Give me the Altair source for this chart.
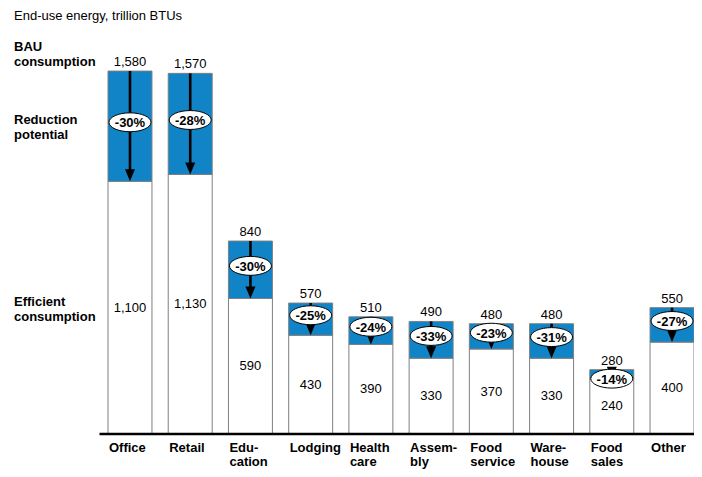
import altair as alt
import pandas as pd

# ---- data ----
categories = ["Office", "Retail", "Edu-\ncation", "Lodging", "Health\ncare",
              "Assem-\nbly", "Food\nservice", "Ware-\nhouse", "Food\nsales", "Other"]
bau_values = [1580, 1570, 840, 570, 510, 490, 480, 480, 280, 550]
efficient_values = [1100, 1130, 590, 430, 390, 330, 370, 330, 240, 400]
reduction_labels = ["-30%", "-28%", "-30%", "-25%", "-24%", "-33%", "-23%", "-31%", "-14%", "-27%"]

df = pd.DataFrame({
    "category": categories,
    "bau": bau_values,
    "eff": efficient_values,
    "pct": reduction_labels,
})
df["bau_label"] = [f"{v:,}" for v in bau_values]
df["eff_label"] = [f"{v:,}" for v in efficient_values]

FONT = "Liberation Sans"
BLUE = "#1084c7"
GRAY = "#7f7f7f"
ELLIPSE = "M-1,0 A1,0.45 0 1,1 1,0 A1,0.45 0 1,1 -1,0 Z"
ARROWHEAD = "M-1,-2.4 L1,-2.4 L0,0 Z"

xenc = alt.X("category:N", sort=categories, axis=None,
             scale=alt.Scale(range=[100, 686], paddingInner=0.27, paddingOuter=0))
yscale = alt.Scale(domain=[0, 1854.6], nice=False, zero=True)

base = alt.Chart(df).transform_calculate(
    zero="0",
    ell_y="min((datum.bau + datum.eff) / 2 + 17, datum.bau - 39)",
    rule_end="datum.eff + 30",
    eff_mid="datum.eff / 2",
).encode(x=xenc)

white_bars = base.mark_bar(fill="white", stroke=GRAY, strokeWidth=1).encode(
    y=alt.Y("eff:Q", scale=yscale, axis=None), y2="zero:Q")
blue_bars = base.mark_bar(fill=BLUE, stroke=GRAY, strokeWidth=1).encode(
    y=alt.Y("bau:Q", scale=yscale, axis=None), y2="eff:Q")

arrow_line = base.mark_rule(color="black", strokeWidth=2.6).encode(
    y=alt.Y("bau:Q", scale=yscale, axis=None), y2="rule_end:Q")
arrow_head = base.mark_point(shape=ARROWHEAD, size=100, filled=True,
                             color="black", opacity=1).encode(
    y=alt.Y("eff:Q", scale=yscale, axis=None))

ellipse = base.mark_point(shape=ELLIPSE, size=1764, filled=True, fill="white",
                          stroke="black", strokeWidth=1, opacity=1).encode(
    y=alt.Y("ell_y:Q", scale=yscale, axis=None))
pct_text = base.mark_text(font=FONT, fontSize=13, fontWeight="bold",
                          baseline="middle", dy=1).encode(
    y=alt.Y("ell_y:Q", scale=yscale, axis=None), text="pct:N")

bau_text = base.mark_text(font=FONT, fontSize=13, baseline="alphabetic", dy=-5).encode(
    y=alt.Y("bau:Q", scale=yscale, axis=None), text="bau_label:N")
eff_text = base.mark_text(font=FONT, fontSize=13, baseline="middle").encode(
    y=alt.Y("eff_mid:Q", scale=yscale, axis=None), text="eff_label:N")

cat_text = base.mark_text(font=FONT, fontSize=13, fontWeight="bold", align="left",
                          baseline="alphabetic", dx=-21, lineBreak="\n",
                          lineHeight=14).encode(
    y=alt.value(443.5), text="category:N")

one = pd.DataFrame({"v": [0]})
axis_line = alt.Chart(one).mark_rule(color="black", strokeWidth=2.5).encode(
    y=alt.Y("v:Q", scale=yscale, axis=None), x=alt.value(91.5), x2=alt.value(686))


def note(lines, y, bold=True, lh=15):
    return alt.Chart(one).mark_text(
        font=FONT, fontSize=13, fontWeight="bold" if bold else "normal",
        align="left", baseline="alphabetic", lineHeight=lh,
    ).encode(x=alt.value(6), y=alt.value(y), text=alt.value(lines))


title_note = note("End-use energy, trillion BTUs", 12, bold=False)
bau_note = note(["BAU", "consumption"], 43)
red_note = note(["Reduction", "potential"], 116)
eff_note = note(["Efficient", "consumption"], 298)

chart = alt.layer(
    white_bars, blue_bars, arrow_line, arrow_head, ellipse, pct_text,
    bau_text, eff_text, cat_text, axis_line,
    title_note, bau_note, red_note, eff_note,
).properties(
    width=686, height=426,
    autosize=alt.AutoSizeParams(type="none"),
    padding={"left": 0, "top": 0, "right": 0, "bottom": 35},
).configure(font=FONT).configure_view(stroke=None)

chart.save("out.html", embed_options={"renderer": "svg", "actions": False})
